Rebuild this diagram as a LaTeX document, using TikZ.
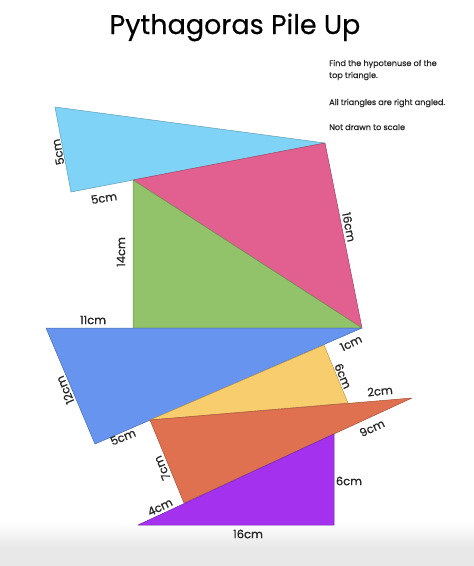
\documentclass[tikz,border=0pt]{standalone}
\usepackage{fontspec}
\setmainfont{Poppins}
\newfontfamily\labfont{Poppins}[FakeBold=0.6]
\newfontfamily\titlefont{Poppins}[FakeBold=0.4]
\definecolor{cLightBlue}{HTML}{7FD3F6}
\definecolor{cPink}{HTML}{E1608F}
\definecolor{cGreen}{HTML}{92C36B}
\definecolor{cBlue}{HTML}{6694EF}
\definecolor{cYellow}{HTML}{F8CD6D}
\definecolor{cOrange}{HTML}{DF7050}
\definecolor{cPurple}{HTML}{A331EE}
\begin{document}
\begin{tikzpicture}[x=1pt,y=-1pt,
  tri/.style={line width=0.5pt,line join=round},
  lab/.style={font=\labfont\fontsize{11.5}{12}\selectfont, inner sep=0pt, text=black!85},
  note/.style={font=\labfont\fontsize{8.1}{9}\selectfont, anchor=base west, inner sep=0pt, text=black!85}]
\useasboundingbox (0,0) rectangle (474,566);
\fill[white] (0,0) rectangle (474,566);
\shade[top color=white,bottom color=black!9] (0,522) rectangle (474,548);
\fill[black!9] (0,548) rectangle (474,566);

% vertices
\coordinate (A) at (55,107);
\coordinate (B) at (71,192);
\coordinate (C) at (133,180);
\coordinate (D) at (325,143);
\coordinate (E) at (362,328);
\coordinate (F) at (133,328);
\coordinate (G) at (46,328);
\coordinate (H) at (95,444);
\coordinate (I) at (150,420);
\coordinate (J) at (324,345);
\coordinate (K) at (348,403);
\coordinate (L) at (412,398);
\coordinate (M) at (184,503);
\coordinate (N) at (334,434);
\coordinate (O) at (138,525);
\coordinate (P) at (334,525);

% triangles
\filldraw[tri, fill=cLightBlue, draw=cLightBlue!75!black] (A) -- (B) -- (D) -- cycle;
\filldraw[tri, fill=cPink, draw=cPink!75!black] (C) -- (D) -- (E) -- cycle;
\filldraw[tri, fill=cGreen, draw=cGreen!75!black] (C) -- (F) -- (E) -- cycle;
\filldraw[tri, fill=cBlue, draw=cBlue!75!black] (G) -- (E) -- (H) -- cycle;
\filldraw[tri, fill=cYellow, draw=cYellow!75!black] (I) -- (J) -- (K) -- cycle;
\filldraw[tri, fill=cOrange, draw=cOrange!75!black] (I) -- (L) -- (M) -- cycle;
\filldraw[tri, fill=cPurple, draw=cPurple!75!black] (O) -- (N) -- (P) -- cycle;

% title and notes
\node[font=\titlefont\fontsize{27}{30}\selectfont, anchor=base, inner sep=0pt] (title) at (235,34) {Pythagoras Pile Up};
\node[note] (n1) at (329,66) {Find the hypotenuse of the};
\node[note] (n2) at (329,78) {top triangle.};
\node[note] (n3) at (329,105) {All triangles are right angled.};
\node[note] (n4) at (329,130) {Not drawn to scale};

% labels
\node[lab, rotate=101] (l1) at (58,152) {5cm};
\node[lab, rotate=9] (l2) at (104,198) {5cm};
\node[lab, rotate=90] (l3) at (121,252) {14cm};
\node[lab, rotate=-79] (l4) at (349,227) {16cm};
\node[lab] (l5) at (93,320) {11cm};
\node[lab, rotate=113] (l6) at (65,390) {12cm};
\node[lab, rotate=22] (l7) at (123,437) {5cm};
\node[lab, rotate=26] (l8) at (351,343) {1cm};
\node[lab, rotate=-67] (l9) at (343,376) {6cm};
\node[lab, rotate=6] (l10) at (380,391) {2cm};
\node[lab, rotate=25] (l11) at (372,428) {9cm};
\node[lab, rotate=113] (l12) at (162,468) {7cm};
\node[lab, rotate=26] (l13) at (160,507) {4cm};
\node[lab] (l14) at (349,481) {6cm};
\node[lab] (l15) at (248,534) {16cm};
\end{tikzpicture}
\end{document}
